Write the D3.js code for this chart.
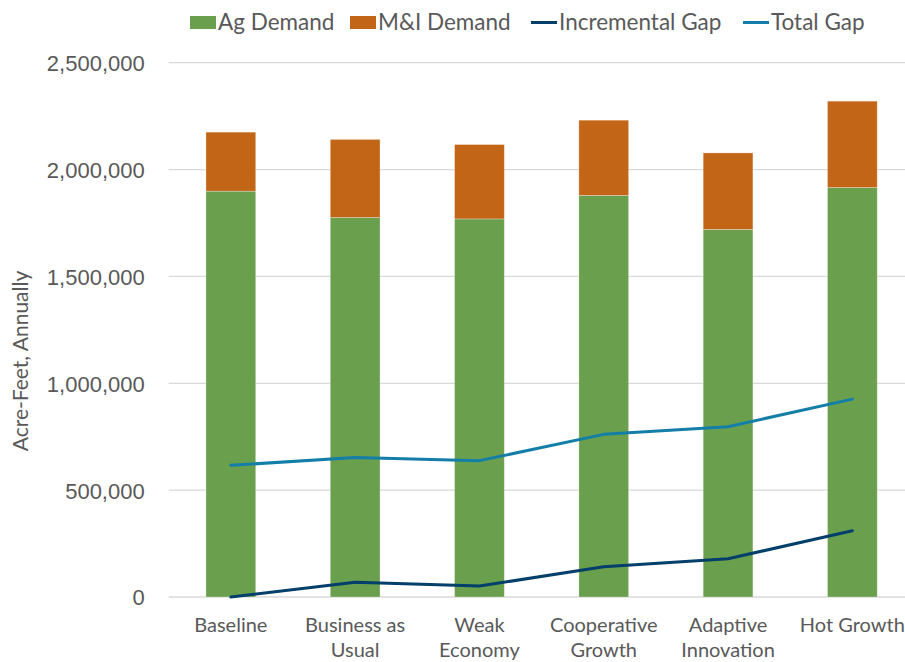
<!DOCTYPE html>
<html>
<head>
<meta charset="utf-8">
<script src="https://cdn.jsdelivr.net/npm/d3@7"></script>
<style>
  html, body { margin: 0; padding: 0; background: #fff; }
  svg { display: block; font-family: Lato, "Open Sans", sans-serif; }
</style>
</head>
<body>
<svg id="chart" width="905" height="662"></svg>
<script>
// Water demand and supply gap by planning scenario (acre-feet per year)
const categories = ["Baseline", "Business as Usual", "Weak Economy", "Cooperative Growth", "Adaptive Innovation", "Hot Growth"];
const agDemand = [1899000, 1776000, 1769000, 1879000, 1720000, 1916000];
const miDemand = [276000, 365000, 348000, 352000, 358000, 404000];
const incrementalGap = [0, 69000, 51000, 142000, 179000, 310000];
const totalGap = [616000, 653000, 638000, 761000, 797000, 926000];
const yTicks = [0, 500000, 1000000, 1500000, 2000000, 2500000];
const seriesNames = ["Ag Demand", "M&I Demand", "Incremental Gap", "Total Gap"];

const colors = {
  ag: "#6a9f4e",
  mi: "#c26517",
  inc: "#023f6a",
  tot: "#137ea8",
  text: "#595959",
  grid: "#d9d9d9"
};

const svg = d3.select("#chart");

const x = d3.scaleBand()
  .domain(categories)
  .range([168.7, 914.5])
  .paddingInner(0.6)
  .paddingOuter(0.3);

const y = d3.scaleLinear()
  .domain([0, 2500000])
  .range([597, 62.7]);

// Gridlines
svg.append("g")
  .selectAll("line")
  .data(yTicks)
  .join("line")
  .attr("x1", 168.7)
  .attr("x2", 914.5)
  .attr("y1", d => y(d))
  .attr("y2", d => y(d))
  .attr("stroke", colors.grid)
  .attr("stroke-width", 1.3);

// Y axis labels
const yAxis = d3.axisLeft(y)
  .tickValues(yTicks)
  .tickFormat(d3.format(","))
  .tickSize(0)
  .tickPadding(24);
const yg = svg.append("g")
  .attr("transform", "translate(168.7,0)")
  .call(yAxis);
yg.select(".domain").remove();
yg.selectAll("text")
  .attr("fill", colors.text)
  .style("font-size", "22px")
  .attr("dy", "0.36em");

// Stacked bars
const stackData = categories.map((c, i) => ({ cat: c, ag: agDemand[i], mi: miDemand[i] }));
const stack = d3.stack().keys(["ag", "mi"])(stackData);
svg.append("g")
  .selectAll("g")
  .data(stack)
  .join("g")
  .attr("fill", d => colors[d.key])
  .selectAll("rect")
  .data(d => d)
  .join("rect")
  .attr("x", d => x(d.data.cat))
  .attr("width", x.bandwidth())
  .attr("y", d => y(d[1]))
  .attr("height", d => y(d[0]) - y(d[1]))
  .attr("stroke", "rgba(255,255,255,0.35)")
  .attr("stroke-width", 0.8);

// Gap lines
const cx = c => x(c) + x.bandwidth() / 2;
const line = d3.line()
  .x((d, i) => cx(categories[i]))
  .y(d => y(d));

svg.append("path")
  .datum(totalGap)
  .attr("d", line)
  .attr("fill", "none")
  .attr("stroke", colors.tot)
  .attr("stroke-width", 3)
  .attr("stroke-linejoin", "round")
  .attr("stroke-linecap", "round");

svg.append("path")
  .datum(incrementalGap)
  .attr("d", line)
  .attr("fill", "none")
  .attr("stroke", colors.inc)
  .attr("stroke-width", 3)
  .attr("stroke-linejoin", "round")
  .attr("stroke-linecap", "round");

// Category labels, wrapped to the band width
const xLabels = svg.append("g")
  .selectAll("text")
  .data(categories)
  .join("text")
  .attr("x", d => cx(d))
  .attr("y", 632)
  .attr("text-anchor", "middle")
  .attr("fill", colors.text)
  .style("font-size", "20px");

xLabels.each(function(d) {
  const t = d3.select(this);
  const words = d.split(" ");
  const maxW = 118;
  let lines = [];
  let cur = [];
  const probe = t.append("tspan");
  words.forEach(w => {
    const test = cur.concat([w]).join(" ");
    probe.text(test);
    if (probe.node().getComputedTextLength() > maxW && cur.length) {
      lines.push(cur.join(" "));
      cur = [w];
    } else {
      cur.push(w);
    }
  });
  lines.push(cur.join(" "));
  probe.remove();
  lines.forEach((l, i) => {
    t.append("tspan")
      .attr("x", cx(d))
      .attr("dy", i === 0 ? 0 : 25)
      .text(l);
  });
});

// Y axis title
svg.append("text")
  .attr("transform", "translate(28,361) rotate(-90)")
  .attr("text-anchor", "middle")
  .attr("fill", colors.text)
  .style("font-size", "21px")
  .text("Acre-Feet, Annually");

// Legend
const legend = svg.append("g").style("font-size", "22.5px");
const legendItems = [
  { name: seriesNames[0], type: "rect", color: colors.ag, x: 190 },
  { name: seriesNames[1], type: "rect", color: colors.mi, x: 350 },
  { name: seriesNames[2], type: "line", color: colors.inc, x: 531 },
  { name: seriesNames[3], type: "line", color: colors.tot, x: 743 }
];
legendItems.forEach(it => {
  if (it.type === "rect") {
    legend.append("rect")
      .attr("x", it.x).attr("y", 16)
      .attr("width", 26).attr("height", 13)
      .attr("fill", it.color);
  } else {
    legend.append("line")
      .attr("x1", it.x).attr("x2", it.x + 26)
      .attr("y1", 22.5).attr("y2", 22.5)
      .attr("stroke", it.color)
      .attr("stroke-width", 3);
  }
  legend.append("text")
    .attr("x", it.x + 28)
    .attr("y", 30)
    .attr("fill", colors.text)
    .text(it.name);
});
</script>
</body>
</html>
